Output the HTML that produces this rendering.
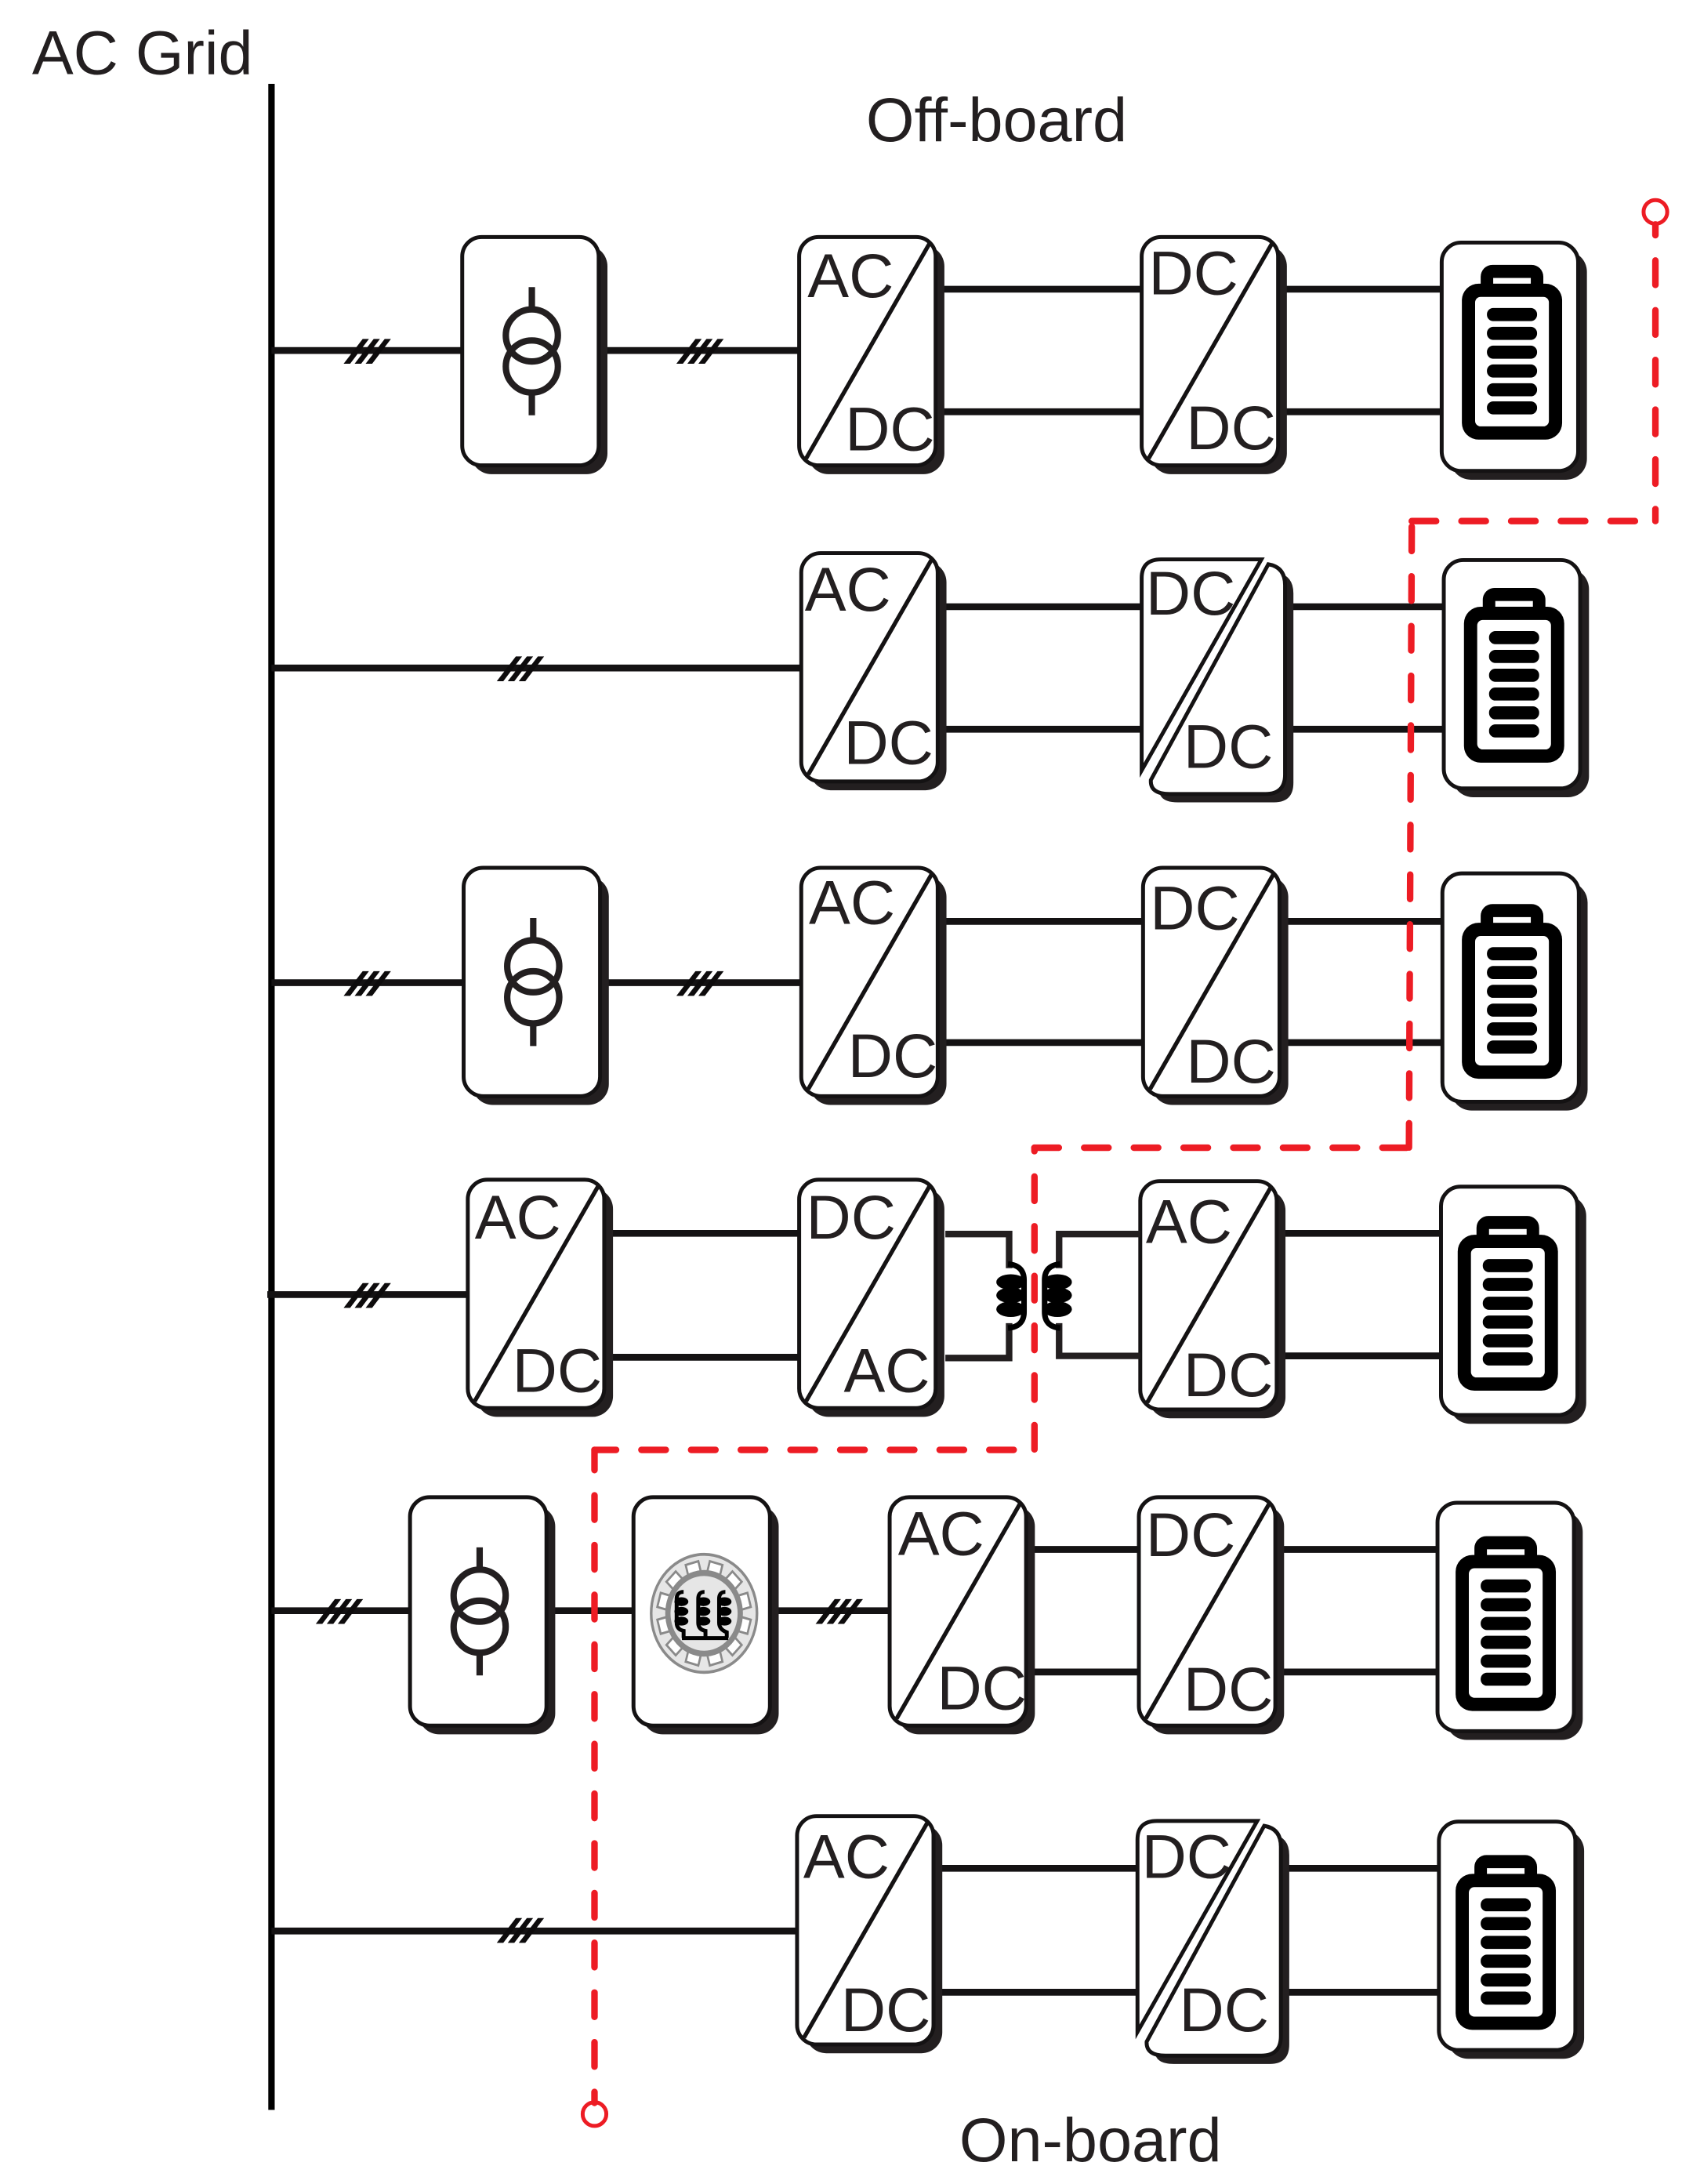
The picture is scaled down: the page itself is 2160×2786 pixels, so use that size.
<!DOCTYPE html>
<html><head><meta charset="utf-8"><style>
html,body{margin:0;padding:0;background:#fff}
svg{display:block}
text{font-family:"Liberation Sans",sans-serif;font-size:44.6px;fill:#231f20}
.b{fill:#fff;stroke:#141213;stroke-width:2.8}
.s{fill:#231f20}
.l{stroke:#141213;stroke-width:4.9;fill:none}
.d{stroke:#141213;stroke-width:3;fill:none}
.r{stroke:#ed1c24;stroke-width:4.7;fill:none;stroke-linecap:round;stroke-dasharray:17.500 18.200}
.c{stroke:#ed1c24;stroke-width:2.8;fill:#fff}
.tr{stroke:#231f20;stroke-width:4.6;fill:none}
</style></head><body>
<svg xmlns="http://www.w3.org/2000/svg" width="2160" height="2786" viewBox="0 0 1216 1568">
<defs>
<g id="box"><rect x="6" y="6" width="98.300" height="164.300" rx="15" class="s"/><rect x="0" y="0" width="98" height="164" rx="14" class="b"/></g>
<g id="conv"><use href="#box"/><line x1="5" y1="159" x2="94" y2="4" class="d"/></g>
<g id="trafo"><circle cx="50" cy="70.700" r="18.700" class="tr"/><circle cx="50" cy="93" r="18.700" class="tr"/><path d="M50 36V51M50 113V128" class="tr"/></g>
<g id="split">
<path d="M911 405Q923 407 923 420V556Q923 570 909 570H840Q826 570 826.600 560Z" class="s" transform="translate(6 6)"/>
<path d="M911 405Q923 407 923 420V556Q923 570 909 570H840Q826 570 826.600 560Z" class="b"/>
<path d="M906 401.500H834Q820 401.500 820 415V553Z" class="b"/>
</g>
<g id="batt">
<rect x="-22.500" y="0" width="45" height="24" rx="8.500" fill="#000"/>
<rect x="-36" y="13.500" width="72" height="112" rx="12" fill="#000"/>
<rect x="-13.500" y="9.400" width="27" height="4.100" fill="#fff"/>
<rect x="-26.500" y="23" width="53" height="93" rx="4" fill="#fff"/>
<g fill="#000">
<rect x="-18" y="31" width="36" height="9.400" rx="4.500"/>
<rect x="-18" y="44.500" width="36" height="9.400" rx="4.500"/>
<rect x="-18" y="58" width="36" height="9.400" rx="4.500"/>
<rect x="-18" y="71.500" width="36" height="9.400" rx="4.500"/>
<rect x="-18" y="85" width="36" height="9.400" rx="4.500"/>
<rect x="-18" y="98" width="36" height="9.400" rx="4.500"/>
</g></g>
<g id="tick" fill="#0d0b0c"><polygon points="-16.700,9 -12,9 1.500,-8.800 -3,-8.800"/><polygon points="-8.800,9 -4.100,9 9.400,-8.800 4.900,-8.800"/><polygon points="-0.900,9 3.800,9 17.300,-8.800 12.800,-8.800"/></g>
</defs>

<rect x="192.700" y="60" width="4.600" height="1455" fill="#000"/>

<!-- wires -->
<g class="l" transform="translate(0 0.500)">
<path d="M195 251H332M431 251H574M672 207H820M672 295H820M917 207H1035M917 295H1037"/>
<path d="M195 479H575M674 435H820M674 523H820M924 435H1037M924 523H1039"/>
<path d="M195 705H333M432 705H575M674 661H821M674 748H821M918 661H1036M918 748H1038"/>
<path d="M192 929H336M434 885H574M434 974H574M917 885H1034M917 973H1034"/>
<path d="M195 1156H294M393 1156H455M553 1156H639M737 1112H818M737 1200H818M916 1112H1032M916 1200H1032"/>
<path d="M195 1386H572M671 1341H817M671 1430H817M921 1341H1033M921 1430H1033"/>
</g>

<!-- ticks -->
<use href="#tick" x="263.500" y="252"/><use href="#tick" x="502.500" y="252"/>
<use href="#tick" x="373.500" y="480"/>
<use href="#tick" x="263.500" y="706"/><use href="#tick" x="502.500" y="706"/>
<use href="#tick" x="263.500" y="930"/>
<use href="#tick" x="243.500" y="1157"/><use href="#tick" x="602.500" y="1157"/>
<use href="#tick" x="373.500" y="1386"/>

<!-- row 1 -->
<use href="#box" x="332" y="170"/><use href="#trafo" x="332" y="170"/>
<use href="#conv" x="574" y="170"/><use href="#conv" x="820" y="170"/>
<use href="#box" x="1035.500" y="174"/><use href="#batt" x="1086" y="190"/>
<!-- row 2 -->
<use href="#conv" x="575.500" y="397"/>
<use href="#split"/>
<use href="#box" x="1037" y="402"/><use href="#batt" x="1087.500" y="422"/>
<!-- row 3 -->
<use href="#box" x="333" y="623"/><use href="#trafo" x="333" y="623"/>
<use href="#conv" x="575.500" y="623"/><use href="#conv" x="821" y="623"/>
<use href="#box" x="1036" y="627"/><use href="#batt" x="1086" y="649"/>
<!-- row 4 -->
<use href="#conv" x="336" y="847"/><use href="#conv" x="574" y="847"/><use href="#conv" x="819" y="848"/>
<use href="#box" x="1035" y="852"/><use href="#batt" x="1083" y="873"/>
<path d="M679 886H724.800V910.500M679 975H724.800V950M819 886H760.700V910.500M819 973.500H760.700V950" fill="none" stroke="#231f20" stroke-width="4.700"/>
<g fill="#000">
<ellipse cx="726" cy="920.500" rx="10.400" ry="5.600"/><ellipse cx="726" cy="930" rx="10.400" ry="5.600"/><ellipse cx="726" cy="940" rx="10.400" ry="5.600"/>
<ellipse cx="759.500" cy="920.500" rx="10.400" ry="5.600"/><ellipse cx="759.500" cy="930" rx="10.400" ry="5.600"/><ellipse cx="759.500" cy="940" rx="10.400" ry="5.600"/>
</g>
<path d="M724 907.500Q735.500 908.500 735.500 919V942Q735.500 952.500 724 953.500M761.500 907.500Q750.300 908.500 750.300 919V942Q750.300 952.500 761.500 953.500" fill="none" stroke="#000" stroke-width="4"/>
<!-- row 5 -->
<use href="#box" x="294.500" y="1075"/><use href="#trafo" x="294.500" y="1075"/>
<use href="#box" x="455" y="1075"/>
<use href="#conv" x="639" y="1075"/><use href="#conv" x="818" y="1075"/>
<use href="#box" x="1032.500" y="1079"/><use href="#batt" x="1081.500" y="1103"/>
<!-- motor -->
<g transform="translate(505.700 1158.400) scale(1 1.115)">
<ellipse rx="38" ry="38" fill="#e6e6e6" stroke="#8a8a8a" stroke-width="1.900"/>
<g fill="#fff" stroke="#8a8a8a" stroke-width="1.500">
<rect x="-4.700" y="-33.500" width="9.400" height="8" transform="rotate(15)"/>
<rect x="-4.700" y="-33.500" width="9.400" height="8" transform="rotate(45)"/>
<rect x="-4.700" y="-33.500" width="9.400" height="8" transform="rotate(75)"/>
<rect x="-4.700" y="-33.500" width="9.400" height="8" transform="rotate(105)"/>
<rect x="-4.700" y="-33.500" width="9.400" height="8" transform="rotate(135)"/>
<rect x="-4.700" y="-33.500" width="9.400" height="8" transform="rotate(165)"/>
<rect x="-4.700" y="-33.500" width="9.400" height="8" transform="rotate(195)"/>
<rect x="-4.700" y="-33.500" width="9.400" height="8" transform="rotate(225)"/>
<rect x="-4.700" y="-33.500" width="9.400" height="8" transform="rotate(255)"/>
<rect x="-4.700" y="-33.500" width="9.400" height="8" transform="rotate(285)"/>
<rect x="-4.700" y="-33.500" width="9.400" height="8" transform="rotate(315)"/>
<rect x="-4.700" y="-33.500" width="9.400" height="8" transform="rotate(345)"/>
</g>
<circle r="26" fill="#e6e6e6" stroke="#8a8a8a" stroke-width="3.800"/>
</g>
<g fill="#000">
<ellipse cx="489.400" cy="1150" rx="5" ry="3.200"/><ellipse cx="489.400" cy="1157" rx="5" ry="3.200"/><ellipse cx="489.400" cy="1164" rx="5" ry="3.200"/>
<ellipse cx="505.200" cy="1150" rx="5" ry="3.200"/><ellipse cx="505.200" cy="1157" rx="5" ry="3.200"/><ellipse cx="505.200" cy="1164" rx="5" ry="3.200"/>
<ellipse cx="520.400" cy="1150" rx="5" ry="3.200"/><ellipse cx="520.400" cy="1157" rx="5" ry="3.200"/><ellipse cx="520.400" cy="1164" rx="5" ry="3.200"/>
</g>
<path d="M491 1143Q486 1143 486 1148V1165Q486 1170 491 1171V1176M506 1143Q501.500 1143 501.500 1148V1165Q501.500 1170 506.700 1171V1176M521 1143Q516.500 1143 516.500 1148V1165Q516.500 1170 522 1172V1176" fill="none" stroke="#000" stroke-width="2.800"/>
<path d="M489.800 1176.200H523" fill="none" stroke="#000" stroke-width="2.800"/>
<!-- row 6 -->
<use href="#conv" x="572.500" y="1304"/>
<use href="#split" x="-3" y="906"/>
<use href="#box" x="1033.500" y="1308"/><use href="#batt" x="1081.500" y="1332"/>

<!-- labels -->
<text x="23" y="53">AC Grid</text>
<text x="622" y="101">Off-board</text>
<text x="689" y="1552">On-board</text>

<text x="580" y="213.300">AC</text><text x="607" y="323.300">DC</text>
<text x="825" y="211.300">DC</text><text x="852" y="322.300">DC</text>
<text x="578" y="438.300">AC</text><text x="606" y="548.300">DC</text>
<text x="823" y="441.300">DC</text><text x="850" y="551.300">DC</text>
<text x="581" y="663.300">AC</text><text x="609" y="773.300">DC</text>
<text x="826" y="667.300">DC</text><text x="852" y="777.300">DC</text>
<text x="341" y="889.300">AC</text><text x="368" y="999.300">DC</text>
<text x="579" y="889.300">DC</text><text x="606" y="999.300">AC</text>
<text x="823" y="892.300">AC</text><text x="850" y="1002.300">DC</text>
<text x="645" y="1116.300">AC</text><text x="673" y="1227.300">DC</text>
<text x="823" y="1117.300">DC</text><text x="850" y="1228.300">DC</text>
<text x="577" y="1348.300">AC</text><text x="604" y="1458.300">DC</text>
<text x="820" y="1348.300">DC</text><text x="847" y="1458.300">DC</text>

<!-- red dashed -->
<circle cx="1189" cy="152" r="8.500" class="c"/>
<circle cx="427" cy="1518" r="8.500" class="c"/>
<path class="r" d="M1189 161V374" stroke-dashoffset="9.800"/>
<path class="r" d="M1014 374H1189"/>
<path class="r" d="M1014 378L1012 824"/>
<path class="r" d="M743 824H1012"/>
<path class="r" d="M743 824V1041" stroke-dashoffset="15"/>
<path class="r" d="M427 1041H743" stroke-dashoffset="2"/>
<path class="r" d="M427 1041V1510" stroke-dashoffset="3"/>
</svg>
</body></html>
